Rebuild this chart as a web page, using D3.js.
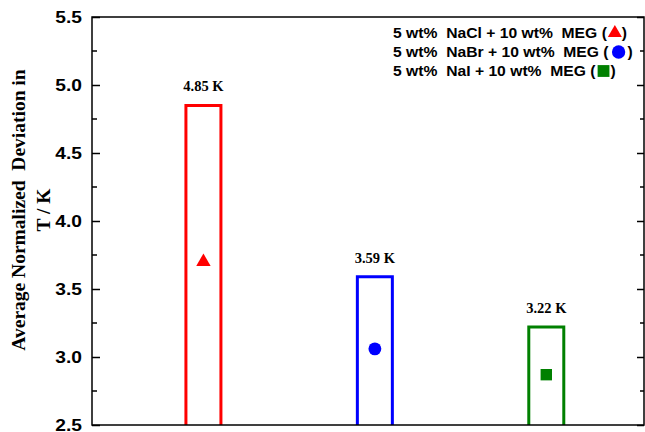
<!DOCTYPE html>
<html>
<head>
<meta charset="utf-8">
<script src="https://cdn.jsdelivr.net/npm/d3@7"></script>
<style>
  body { margin: 0; background: #fff; }
  text { white-space: pre; }
  .stretch { transform-box: fill-box; transform-origin: right center; transform: scaleX(1.2); }
</style>
</head>
<body>
<div id="chart"></div>
<script>
// data
const systems = ['NaCl', 'NaBr', 'NaI'];
const barValues = [4.85, 3.59, 3.22];
const markerValues = [3.70, 3.06, 2.87];
const barLabels = ['4.85 K', '3.59 K', '3.22 K'];
const legendLabels = [
    '5 wt%  NaCl + 10 wt%  MEG (',
    '5 wt%  NaBr + 10 wt%  MEG (',
    '5 wt%  NaI + 10 wt%  MEG ('
];
const colors = ['#ff0000', '#0000ff', '#008000'];
const shapes = [d3.symbolTriangle, d3.symbolCircle, d3.symbolSquare];
const yTicks = [2.5, 3.0, 3.5, 4.0, 4.5, 5.0, 5.5];

const width = 645, height = 432;
const margin = { top: 17, right: 1, bottom: 7, left: 92 };

const svg = d3.select('#chart')
    .append('svg')
    .attr('width', width)
    .attr('height', height);

const x = d3.scaleLinear()
    .domain([0.35, 3.57])
    .range([margin.left, width - margin.right]);

const y = d3.scaleLinear()
    .domain([2.5, 5.5])
    .range([height - margin.bottom, margin.top]);

const barW = 35;

// bars (outlined, open at the bottom axis)
svg.append('g')
    .selectAll('path')
    .data(systems)
    .join('path')
    .attr('d', (d, i) => {
        const x0 = x(i + 1) - barW / 2, x1 = x(i + 1) + barW / 2;
        const yb = y(2.5), yt = y(barValues[i]);
        return `M${x0},${yb}V${yt}H${x1}V${yb}`;
    })
    .attr('fill', 'none')
    .attr('stroke', (d, i) => colors[i])
    .attr('stroke-width', 3);

// bar labels
svg.append('g')
    .selectAll('text')
    .data(barLabels)
    .join('text')
    .attr('x', (d, i) => x(i + 1))
    .attr('y', (d, i) => y(barValues[i]) - 14)
    .attr('text-anchor', 'middle')
    .attr('font-family', '"Liberation Serif", "Times New Roman", serif')
    .attr('font-weight', 'bold')
    .attr('font-size', '14.5px')
    .attr('fill', '#000')
    .text(d => d);

// markers
svg.append('g')
    .selectAll('path')
    .data(markerValues)
    .join('path')
    .attr('transform', (d, i) => `translate(${x(i + 1)},${y(d)})`)
    .attr('d', (d, i) => d3.symbol().type(shapes[i]).size(i === 0 ? 90 : 130)())
    .attr('fill', (d, i) => colors[i]);

// frame
svg.append('rect')
    .attr('x', margin.left)
    .attr('y', margin.top)
    .attr('width', width - margin.right - margin.left)
    .attr('height', height - margin.bottom - margin.top)
    .attr('fill', 'none')
    .attr('stroke', '#000')
    .attr('stroke-width', 1.5);

// left axis, inward ticks
const leftAxis = svg.append('g')
    .attr('transform', `translate(${margin.left},0)`)
    .call(d3.axisLeft(y).tickValues(yTicks).tickSize(-8).tickPadding(10).tickFormat(d3.format('.1f')));
leftAxis.select('.domain').remove();
leftAxis.selectAll('line').attr('stroke-width', 1.5);
leftAxis.selectAll('text')
    .attr('class', 'stretch')
    .attr('font-family', 'Arial, "Liberation Sans", sans-serif')
    .attr('font-weight', 'bold')
    .attr('font-size', '16px')
    .attr('fill', '#000');

const minorTicks = d3.range(2.75, 5.5, 0.5);
svg.append('g')
    .selectAll('line')
    .data(minorTicks)
    .join('line')
    .attr('x1', margin.left).attr('x2', margin.left + 5)
    .attr('y1', d => y(d)).attr('y2', d => y(d))
    .attr('stroke', '#000').attr('stroke-width', 1.5);

// right axis, inward ticks, no labels
const rightX = width - margin.right;
const rightAxis = svg.append('g')
    .attr('transform', `translate(${rightX},0)`)
    .call(d3.axisRight(y).tickValues(yTicks).tickSize(-7).tickFormat(''));
rightAxis.select('.domain').remove();
rightAxis.selectAll('line').attr('stroke-width', 1.5);
svg.append('g')
    .selectAll('line')
    .data(minorTicks)
    .join('line')
    .attr('x1', rightX).attr('x2', rightX - 4)
    .attr('y1', d => y(d)).attr('y2', d => y(d))
    .attr('stroke', '#000').attr('stroke-width', 1.5);

// y title
const title = svg.append('text')
    .attr('transform', 'translate(25,210) rotate(-90)')
    .attr('text-anchor', 'middle')
    .attr('font-family', '"Liberation Serif", "Times New Roman", serif')
    .attr('font-weight', 'bold')
    .attr('font-size', '19.5px')
    .attr('fill', '#000');
title.append('tspan').attr('x', 0).attr('dy', 0).text('Average Normalized  Deviation in');
title.append('tspan').attr('x', 0).attr('dy', 25).text('T / K');

// legend
const sx = 1.12;
legendLabels.forEach((label, i) => {
    const ly = 38 + i * 19;
    const row = svg.append('g').attr('transform', `translate(393,${ly})`);
    const t = row.append('text')
        .attr('transform', `scale(${sx},1)`)
        .attr('font-family', 'Arial, "Liberation Sans", sans-serif')
        .attr('font-weight', 'bold')
        .attr('font-size', '14px')
        .attr('fill', '#000')
        .text(label);
    const w = t.node().getComputedTextLength() * sx;
    const off = i === 1 ? 10 : 8;
    row.append('path')
        .attr('transform', `translate(${w + off},-5)`)
        .attr('d', d3.symbol().type(shapes[i]).size(i === 0 ? 85 : 140)())
        .attr('fill', colors[i]);
    row.append('text')
        .attr('transform', `translate(${w + off * 2 - 1},0) scale(${sx},1)`)
        .attr('font-family', 'Arial, "Liberation Sans", sans-serif')
        .attr('font-weight', 'bold')
        .attr('font-size', '14px')
        .attr('fill', '#000')
        .text(')');
});
</script>
</body>
</html>
